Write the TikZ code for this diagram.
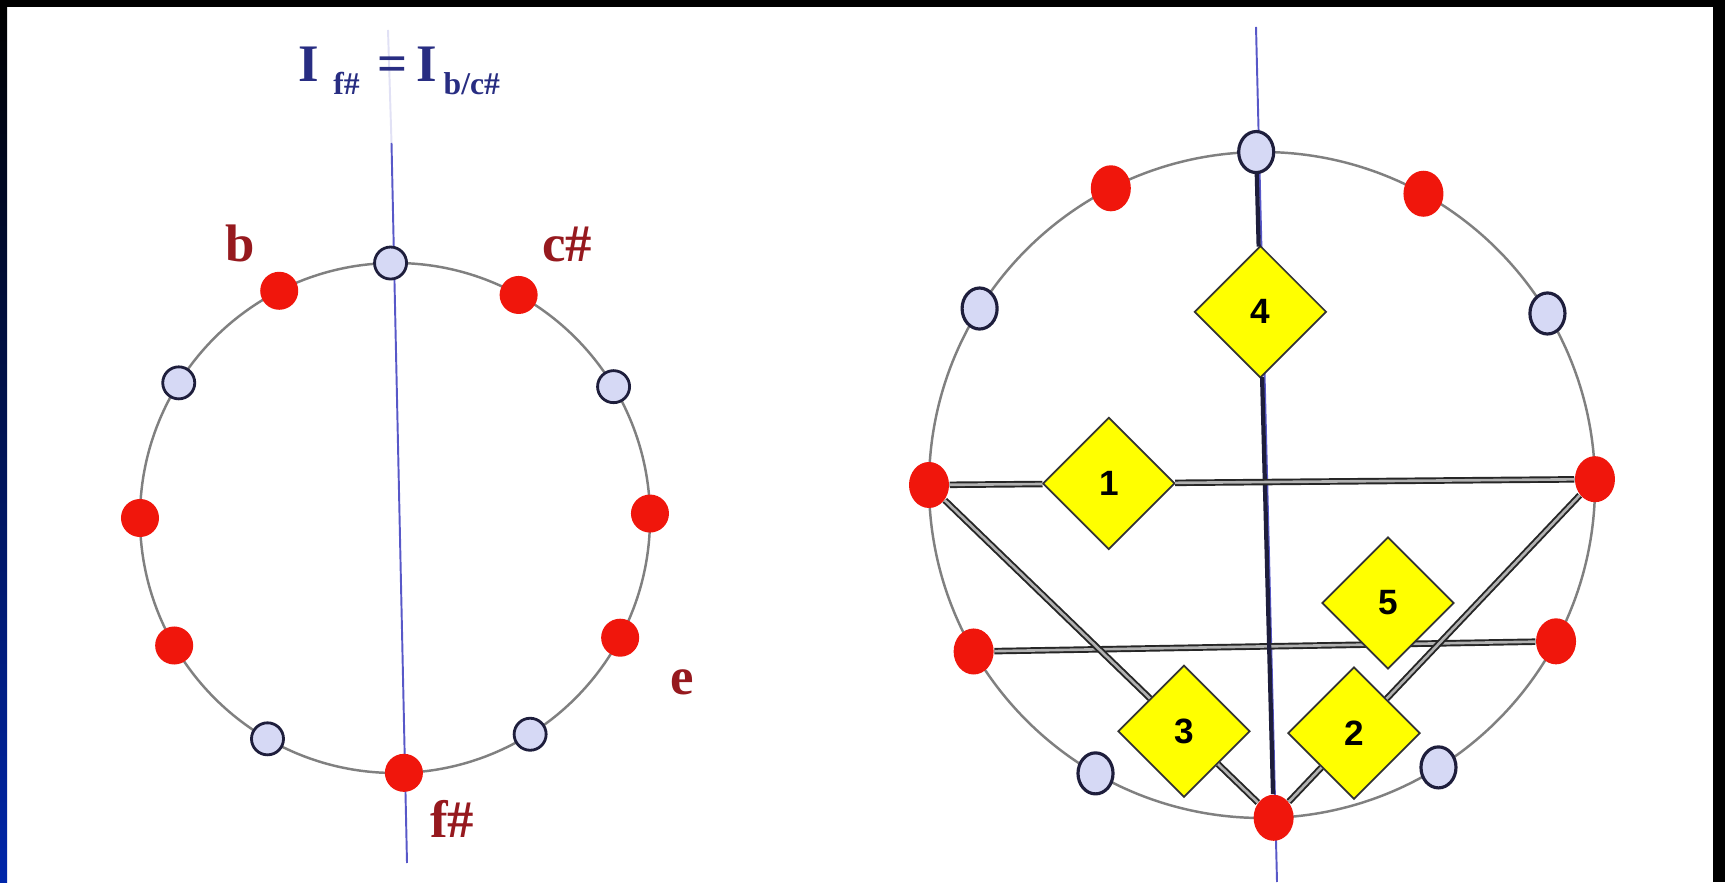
\documentclass[tikz,border=0pt]{standalone}
\usepackage{fontspec}
\setmainfont{Liberation Serif}
\newfontfamily\numfont{Liberation Sans}
\usetikzlibrary{shapes.geometric, calc, positioning}
\definecolor{dotred}{RGB}{240,22,12}
\definecolor{dotpale}{RGB}{214,217,245}
\definecolor{rimdark}{RGB}{30,30,60}
\definecolor{axisblue}{RGB}{88,88,200}
\definecolor{labred}{RGB}{150,25,30}
\definecolor{labnavy}{RGB}{40,45,130}
\definecolor{framenavy}{RGB}{0,38,170}
\definecolor{diayellow}{RGB}{255,255,0}
\tikzset{
  ring/.style={draw=black!50, line width=0.7pt},
  axis/.style={draw=axisblue, line width=0.55pt},
  ldotr/.style={circle, fill=dotred, inner sep=0pt, minimum size=0.38cm},
  ldotp/.style={circle, fill=dotpale, draw=rimdark, line width=0.8pt, inner sep=0pt, minimum size=0.32cm},
  rdotr/.style={ellipse, fill=dotred, inner sep=0pt, minimum width=0.40cm, minimum height=0.46cm},
  rdotp/.style={ellipse, fill=dotpale, draw=rimdark, line width=0.9pt, inner sep=0pt, minimum width=0.35cm, minimum height=0.41cm},
  dia/.style={diamond, fill=diayellow, draw=black!80, line width=0.5pt, inner sep=0pt,
    minimum width=1.32cm, minimum height=1.32cm, font=\numfont\bfseries\fontsize{10}{11}\selectfont},
  chord/.style={draw=black!85, line width=0.55pt, double=black!30, double distance=0.75pt},
  spine/.style={draw=rimdark, line width=1.2pt},
  note/.style={anchor=base, inner sep=0pt, text=labred, font=\bfseries\fontsize{15}{16}\selectfont}
}
\newcommand{\lowsub}[1]{\raisebox{-3.7pt}{\fontsize{9}{9}\selectfont #1}}

\begin{document}
\begin{tikzpicture}[x=0.01cm, y=0.01cm]
  % frame
  \useasboundingbox (0,0) rectangle (1725,882);
  \fill[white] (0,0) rectangle (1725,882);
  \fill[black] (0,875) rectangle (1725,882);
  \fill[black] (1713,0) rectangle (1725,882);
  \shade[top color=black, middle color=framenavy!70!black, bottom color=framenavy] (0,0) rectangle (7,875);

  \coordinate (L) at (395,364);
  \coordinate (R) at (1262,397);

  % left circle and its axis
  \draw[ring] (L) circle (255);
  \coordinate (lfaint) at (388,852);
  \coordinate (ltop) at (391.5,739);
  \coordinate (lbot) at (407,19);
  \draw[axisblue!18, line width=0.55pt] (lfaint) -- (ltop);
  \draw[axis] (ltop) -- (lbot);

  % right circle and its axis
  \draw[ring] (R) circle (333);
  \coordinate (rtop) at (1256,855);
  \coordinate (rbot) at (1277,0);
  \draw[axis] (rtop) -- (rbot);

  % twelve points on each circle
  \foreach \ang/\kind [count=\i] in {91/p,61/r,31/p,1/r,-28/r,-58/p,-88/r,-120/p,-150/r,180/r,148/p,117/r}{
    \node[ldot\kind] (l\i) at ($(L)+(\ang:255)$) {};
    \node[rdot\kind] (r\i) at ($(R)+(\ang:333)$) {};
  }

  % labels
  \node[anchor=base west, inner sep=0pt, text=labnavy, font=\bfseries\fontsize{15}{16}\selectfont] (title) at (298,800)
    {I\hspace{4pt}\lowsub{f\#}\hspace{5pt}=\hspace{2.5pt}I\hspace{2pt}\lowsub{b/c\#}};
  \node[note] (nb)  at (240,620) {b};
  \node[note] (ncs) at (567,620) {c\#};
  \node[note] (ne)  at (682,187) {e};
  \node[note] (nfs) at (452,45)  {f\#};

  % chords
  \draw[chord] (r9) -- (r5);
  \node[dia] (d5) at (1388,279) {5};
  \node[dia] (d4) at ($(r1)!0.24!(r7)$) {4};
  \node[dia] (d1) at ($(r10)!0.27!(r4)$) {1};
  \node[dia] (d3) at ($(r10)!0.74!(r7)$) {3};
  \node[dia] (d2) at ($(r4)!0.75!(r7)$) {2};
  \draw[spine] (r1) -- (d4) -- (r7);
  \draw[chord] (r10) -- (d1) -- (r4);
  \draw[chord] (r10) -- (d3) -- (r7);
  \draw[chord] (r4) -- (d2) -- (r7);
\end{tikzpicture}
\end{document}
